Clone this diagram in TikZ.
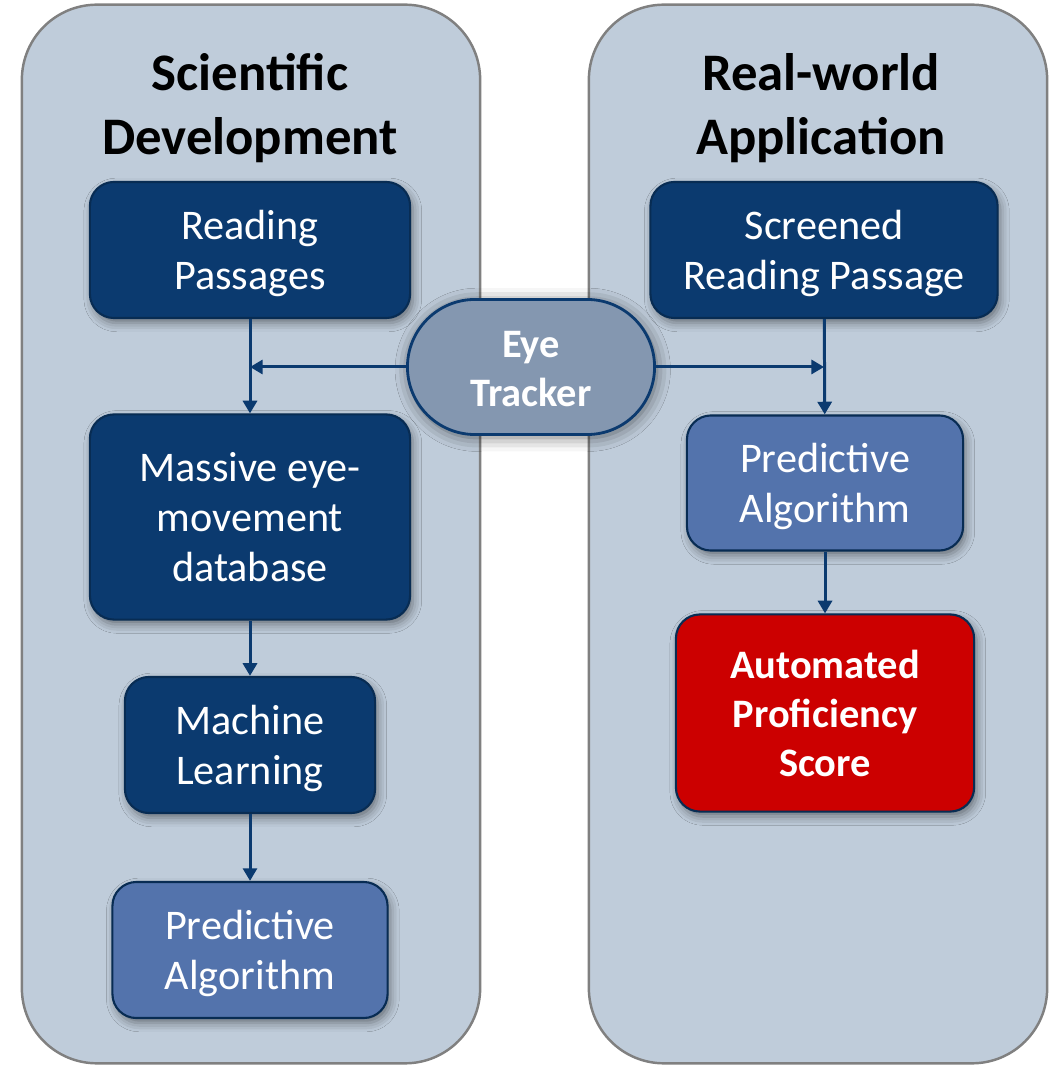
\documentclass[tikz,border=0pt]{standalone}
\usepackage{fontspec}
\setmainfont{Carlito}
\usetikzlibrary{shapes.misc,shadows.blur,arrows.meta}
\definecolor{panelbg}{HTML}{BFCCDA}
\definecolor{paneledge}{HTML}{808080}
\definecolor{navy}{HTML}{0B3A6F}
\definecolor{midblue}{HTML}{5373AC}
\definecolor{scorered}{HTML}{CC0000}
\definecolor{trackerfill}{HTML}{8497B0}
\tikzset{
    panel/.style={fill=panelbg, draw=paneledge, line width=0.7pt, rounded corners=0.75cm, minimum width=4.58cm, minimum height=10.58cm},
    paneltitle/.style={align=center, font=\fontsize{15}{18}\selectfont\bfseries, text depth=0pt},
    stage/.style={rounded corners=0.24cm, draw=navy!75!black, line width=0.6pt, text=white, align=center, inner sep=0pt,
        font=\fontsize{12}{14.3}\selectfont, text depth=0pt,
        blur shadow={shadow xshift=0.8pt, shadow yshift=-1.4pt, shadow blur radius=2.5pt, shadow opacity=45}},
    darkstage/.style={stage, fill=navy},
    lightstage/.style={stage, fill=midblue},
    scorebox/.style={stage, fill=scorered, font=\fontsize{11.5}{13.9}\selectfont\bfseries},
    tracker/.style={rounded rectangle, fill=trackerfill, draw=navy, line width=0.8pt, text=white, align=center, inner sep=0pt,
        minimum width=2.47cm, minimum height=1.35cm, font=\fontsize{11.5}{13.7}\selectfont\bfseries, text height=22.2pt, text depth=0pt,
        blur shadow={shadow xshift=0.5pt, shadow yshift=-0.8pt, shadow blur radius=4pt, shadow opacity=55}},
}
\begin{document}
\begin{tikzpicture}[x=0.01cm, y=-0.01cm, >={Triangle[length=3.6pt,width=4pt]}, line width=0.85pt]
    \useasboundingbox (0,0) rectangle (1051,1065);
    \node [panel] (sci) at (251,534) {};
    \node [panel] (real) at (818,534) {};
    \node [paneltitle] (scititle) at (250,104) {Scientific\\Development};
    \node [paneltitle] (realtitle) at (821,104) {Real-world\\Application};

    \node [darkstage, minimum width=3.2cm, minimum height=1.36cm] (reading) at (250,250) {Reading\\Passages};
    \node [darkstage, minimum width=3.2cm, minimum height=2.05cm] (database) at (250,517) {Massive eye-\\movement\\database};
    \node [darkstage, minimum width=2.5cm, minimum height=1.36cm] (learning) at (250,745) {Machine\\Learning};
    \node [lightstage, minimum width=2.75cm, minimum height=1.36cm] (predictl) at (250,950) {Predictive\\Algorithm};

    \node [darkstage, minimum width=3.47cm, minimum height=1.36cm] (screened) at (824,250) {Screened\\Reading Passage};
    \node [lightstage, minimum width=2.76cm, minimum height=1.35cm] (predictr) at (825,483) {Predictive\\Algorithm};
    \node [scorebox, minimum width=2.98cm, minimum height=1.97cm] (score) at (825,713) {Automated\\Proficiency\\Score};

    \draw [->, navy] (reading) -- (database);
    \draw [->, navy] (database) -- (learning);
    \draw [->, navy] (learning) -- (predictl);
    \draw [->, navy] (screened) -- (predictr);
    \draw [->, navy] (predictr) -- (score);

    \node [tracker] (eye) at (531,367) {Eye\\Tracker};
    \draw [->, navy] (eye.west) -- (eye.west -| reading.south);
    \draw [->, navy] (eye.east) -- (eye.east -| screened.south);
\end{tikzpicture}
\end{document}
